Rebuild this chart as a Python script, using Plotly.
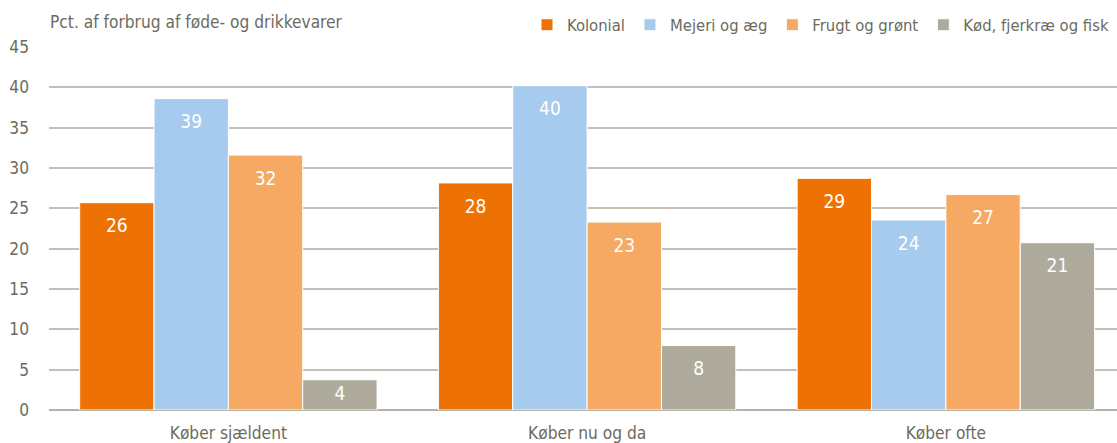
import plotly.graph_objects as go

categories = ["Køber sjældent", "Køber nu og da", "Køber ofte"]
series_names = ["Kolonial", "Mejeri og æg", "Frugt og grønt", "Kød, fjerkræ og fisk"]
kolonial = [25.7, 28.15, 28.72]
mejeri = [38.6, 40.2, 23.55]
frugt = [31.6, 23.3, 26.7]
koed = [3.75, 8.0, 20.74]
y_ticks = [0, 5, 10, 15, 20, 25, 30, 35, 40, 45]
title_text = "Pct. af forbrug af føde- og drikkevarer"

colors = ["#EE7203", "#A6CBEE", "#F5A962", "#AEAB9D"]
all_series = [kolonial, mejeri, frugt, koed]

FONT = "DejaVu Sans Condensed, Roboto, sans-serif"
TXT = "#6b6b5f"
FS = 17.2

group_frac = 0.829
w = group_frac / len(all_series)

fig = go.Figure()
for i, (name, vals, col) in enumerate(zip(series_names, all_series, colors)):
    xs = [g + (i - (len(all_series) - 1) / 2) * w for g in range(len(categories))]
    fig.add_trace(go.Bar(
        x=xs, y=vals, width=w, name=name,
        marker=dict(color=col, line=dict(color="white", width=1)),
        hoverinfo="skip",
    ))
for i, (name, vals, col) in enumerate(zip(series_names, all_series, colors)):
    xs = [g + (i - (len(all_series) - 1) / 2) * w for g in range(len(categories))]
    ty = [max(v - 3.1, v / 2) for v in vals]
    fig.add_trace(go.Scatter(
        x=xs, y=ty, mode="text", text=[f"{v:.0f}" for v in vals],
        textfont=dict(family=FONT, size=19, color="white"),
        showlegend=False, hoverinfo="skip",
    ))

fig.update_layout(
    width=1117, height=443,
    margin=dict(l=49, r=0, t=47, b=33, autoexpand=False),
    paper_bgcolor="white", plot_bgcolor="white",
    barmode="overlay",
    font=dict(family=FONT, size=FS, color=TXT),
    title=dict(text=title_text, x=50 / 1117, xanchor="left", xref="container",
               y=1 - 22 / 443, yanchor="middle", yref="container",
               font=dict(family=FONT, size=FS, color=TXT)),
    legend=dict(orientation="h", x=1114 / 1117, xanchor="right", xref="container",
                y=1 - 25 / 443, yanchor="middle", yref="container",
                font=dict(family=FONT, size=16.5, color=TXT),
                itemwidth=30, traceorder="normal", bgcolor="rgba(0,0,0,0)"),
    xaxis=dict(range=[-0.5, 2.477], tickvals=list(range(len(categories))),
               ticktext=categories, showgrid=False, zeroline=False,
               showline=False, ticks="", ticklabelstandoff=11,
               tickfont=dict(family=FONT, size=FS, color=TXT), fixedrange=True),
    yaxis=dict(range=[0, 45], tickvals=y_ticks, showgrid=True,
               gridcolor="#C3C1B7", gridwidth=1.5, zeroline=True,
               zerolinecolor="#B5B3A9", zerolinewidth=1.5, showline=False,
               ticks="", ticklabelstandoff=19,
               tickfont=dict(family=FONT, size=FS, color=TXT), fixedrange=True),
)

fig.write_html("out.html", config={"displayModeBar": False},
               post_script="document.body.style.margin='0';")
